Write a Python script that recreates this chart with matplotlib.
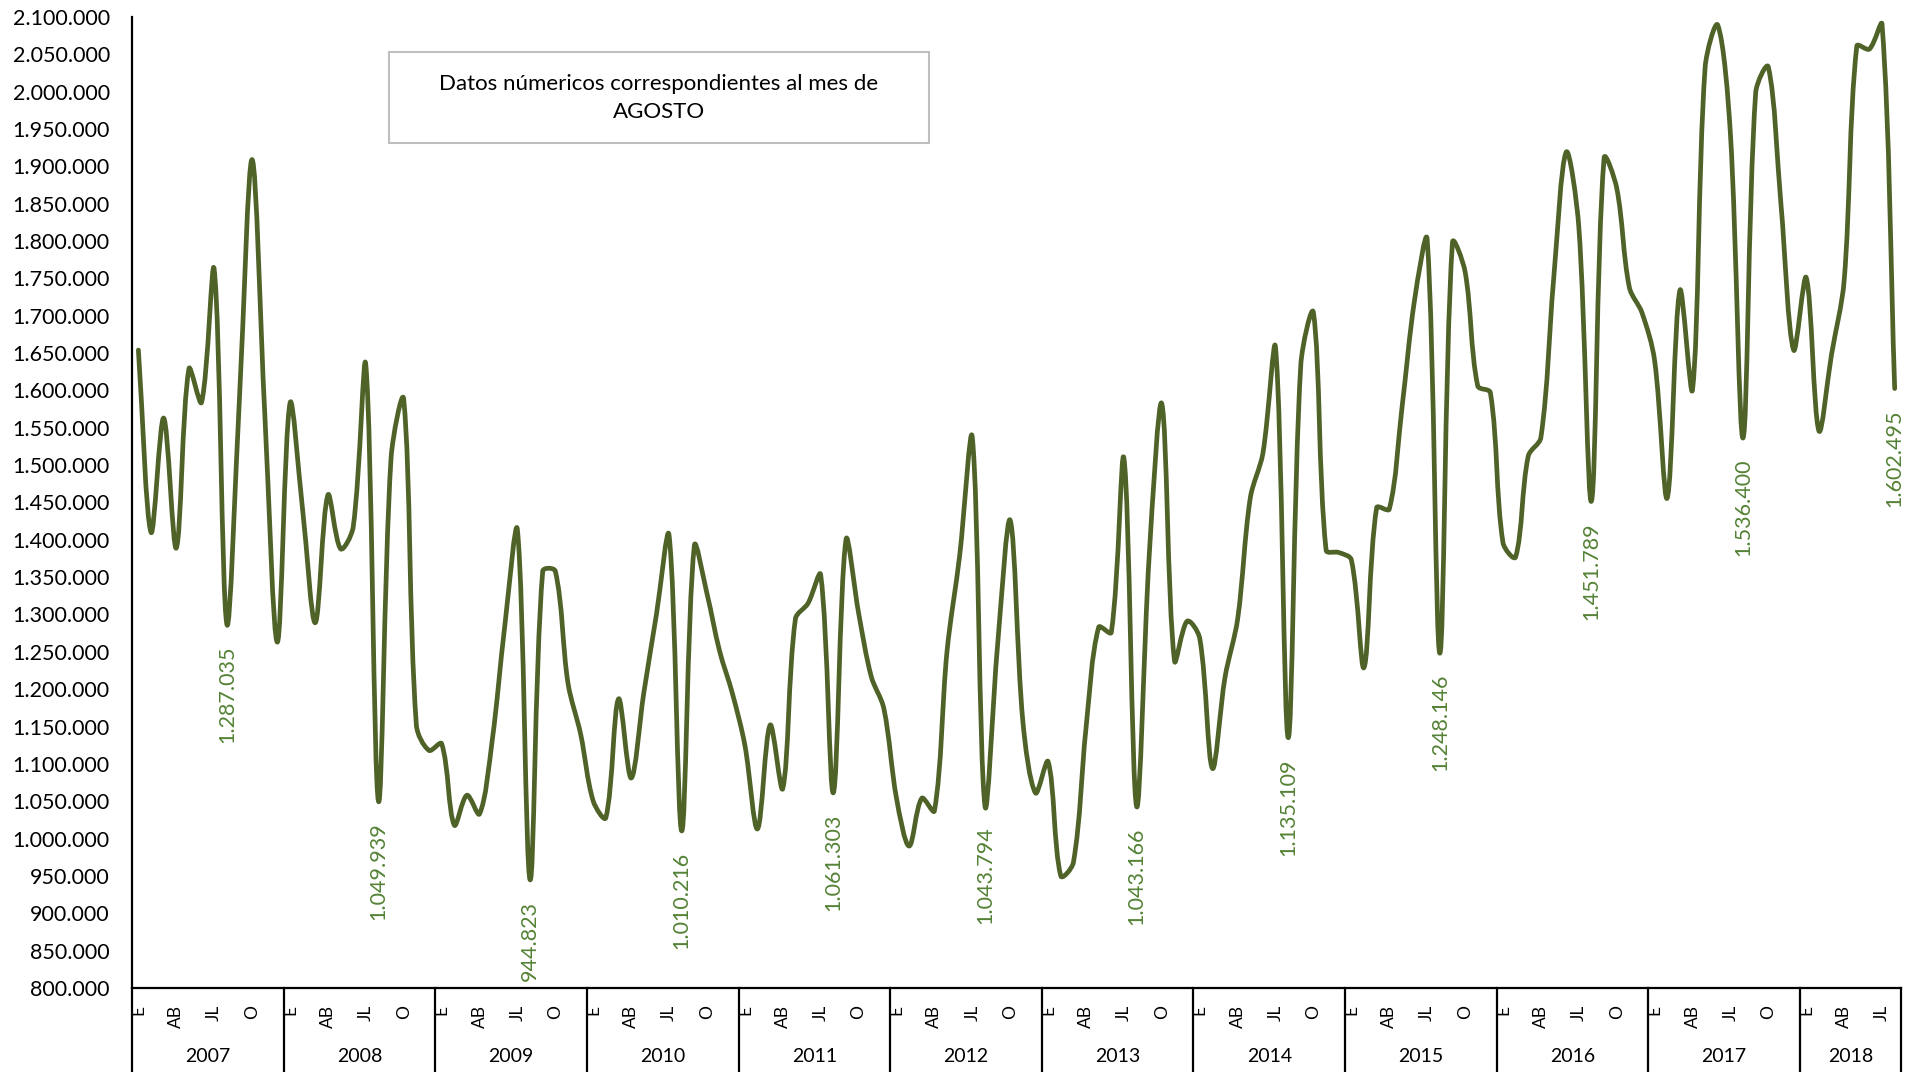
import numpy as np
import matplotlib
matplotlib.use("Agg")
import matplotlib.pyplot as plt
from matplotlib.path import Path
from matplotlib.patches import PathPatch, Rectangle
from matplotlib.ticker import FuncFormatter

plt.rcParams['font.family'] = ['Lato', 'DejaVu Sans']

# monthly values, Jan 2007 .. Aug 2018
years = ['2007', '2008', '2009', '2010', '2011', '2012',
         '2013', '2014', '2015', '2016', '2017', '2018']
v2007 = [1654000, 1410000, 1563000, 1389000, 1629000, 1584000, 1762000, 1287035, 1590000, 1909000, 1570000, 1263000]
v2008 = [1583000, 1440000, 1289000, 1460000, 1388000, 1417000, 1634000, 1049939, 1510000, 1588000, 1152000, 1118000]
v2009 = [1127000, 1018000, 1058000, 1033000, 1131000, 1285000, 1413000, 944823, 1358000, 1358000, 1208000, 1140000]
v2010 = [1050000, 1028000, 1187000, 1081000, 1195000, 1300000, 1406000, 1010216, 1392000, 1328000, 1251000, 1195000]
v2011 = [1125000, 1013000, 1152000, 1067000, 1294000, 1315000, 1353000, 1061303, 1400000, 1302000, 1217000, 1174000]
v2012 = [1054000, 990000, 1054000, 1037000, 1251000, 1379000, 1537000, 1043794, 1259000, 1426000, 1157000, 1061000]
v2013 = [1103000, 950000, 968000, 1148000, 1283000, 1276000, 1509000, 1043166, 1379000, 1582000, 1238000, 1291000]
v2014 = [1268000, 1094000, 1216000, 1294000, 1456000, 1516000, 1657000, 1135109, 1635000, 1704000, 1386000, 1383000]
v2015 = [1373000, 1229000, 1443000, 1441000, 1576000, 1721000, 1802000, 1248146, 1798000, 1759000, 1606000, 1597000]
v2016 = [1396000, 1377000, 1512000, 1537000, 1747000, 1919000, 1819000, 1451789, 1911000, 1871000, 1738000, 1704000]
v2017 = [1640000, 1456000, 1734000, 1601000, 2033000, 2089000, 1943000, 1536400, 1999000, 2033000, 1849000, 1654000]
v2018 = [1751000, 1546000, 1648000, 1747000, 2061000, 2057000, 2090000, 1602495]

month_labels = ['E', '', '', 'AB', '', '', 'JL', '', '', 'O', '', '']
august_idx = 7

values = np.array(v2007 + v2008 + v2009 + v2010 + v2011 + v2012 +
                  v2013 + v2014 + v2015 + v2016 + v2017 + v2018, dtype=float)
n = len(values)
x = np.arange(n, dtype=float)

line_color = '#4F6228'
label_color = '#548235'

fig = plt.figure(figsize=(19.28, 10.72), dpi=100)
ax = fig.add_axes([0.0685, 0.0784, 0.9175, 0.9058])
ax.set_xlim(-0.5, n - 0.5)
ax.set_ylim(800000, 2100000)

# smoothed line: Bezier through every point, tangents weighted by segment
# length in screen space (keeps the peaks from overshooting, like Excel)
pts = ax.transData.transform(np.column_stack([x, values]))
verts = [pts[0]]
codes = [Path.MOVETO]
for i in range(n - 1):
    p0 = pts[max(i - 1, 0)]
    p1 = pts[i]
    p2 = pts[i + 1]
    p3 = pts[min(i + 2, n - 1)]
    d01 = np.hypot(*(p1 - p0))
    d12 = np.hypot(*(p2 - p1))
    d23 = np.hypot(*(p3 - p2))
    t1 = (p2 - p0) * (d12 / (d01 + d12) if d01 + d12 else 0)
    t2 = (p3 - p1) * (d12 / (d12 + d23) if d12 + d23 else 0)
    c1 = p1 + t1 / 3.0
    c2 = p2 - t2 / 3.0
    verts += [c1, c2, p2]
    codes += [Path.CURVE4] * 3
verts = ax.transData.inverted().transform(np.array(verts))
ax.add_patch(PathPatch(Path(verts, codes), facecolor='none',
                       edgecolor=line_color, lw=3.4, capstyle='round',
                       joinstyle='round'))

ax.set_yticks(np.arange(800000, 2100001, 50000))
ax.yaxis.set_major_formatter(FuncFormatter(lambda v, p: f'{int(v):,}'.replace(',', '.')))
ax.tick_params(axis='y', length=0, pad=16, labelsize=15.5)

# month ticks
ticks = [i for i in range(n) if month_labels[i % 12]]
ax.set_xticks(ticks)
ax.set_xticklabels([month_labels[i % 12] for i in ticks], rotation=90)
ax.tick_params(axis='x', length=0, pad=12, labelsize=12.5)

for s in ['top', 'right']:
    ax.spines[s].set_visible(False)
for s in ['left', 'bottom']:
    ax.spines[s].set_linewidth(1.6)
    ax.spines[s].set_color('black')

# year labels and separators
trans = ax.get_xaxis_transform()
for k, yr in enumerate(years):
    start = 12 * k - 0.5
    end = min(12 * k + 11.5, n - 0.5)
    ax.text((start + end) / 2, -0.071, yr, transform=trans, ha='center',
            va='center', fontsize=14)
    ax.plot([start, start], [0, -0.087], transform=trans, color='black',
            lw=1.6, clip_on=False)
ax.plot([n - 0.5, n - 0.5], [0, -0.087], transform=trans, color='black',
        lw=1.6, clip_on=False)

# August data labels
for i in range(august_idx, n, 12):
    lab = f'{int(values[i]):,}'.replace(',', '.')
    ax.annotate(lab, (x[i], values[i]), xytext=(0, -15),
                textcoords='offset points', rotation=90, ha='center',
                va='top', color=label_color, fontsize=15.5)

# note box
fig.patches.append(Rectangle((0.2018, 0.8666), 0.2801, 0.0849,
                             transform=fig.transFigure, facecolor='white',
                             edgecolor='#BFBFBF', lw=1.5))
fig.text(0.3418, 0.9086, 'Datos númericos correspondientes al mes de\nAGOSTO',
         ha='center', va='center', fontsize=16, linespacing=1.45)

fig.savefig('out.png', dpi=100, facecolor='white')
